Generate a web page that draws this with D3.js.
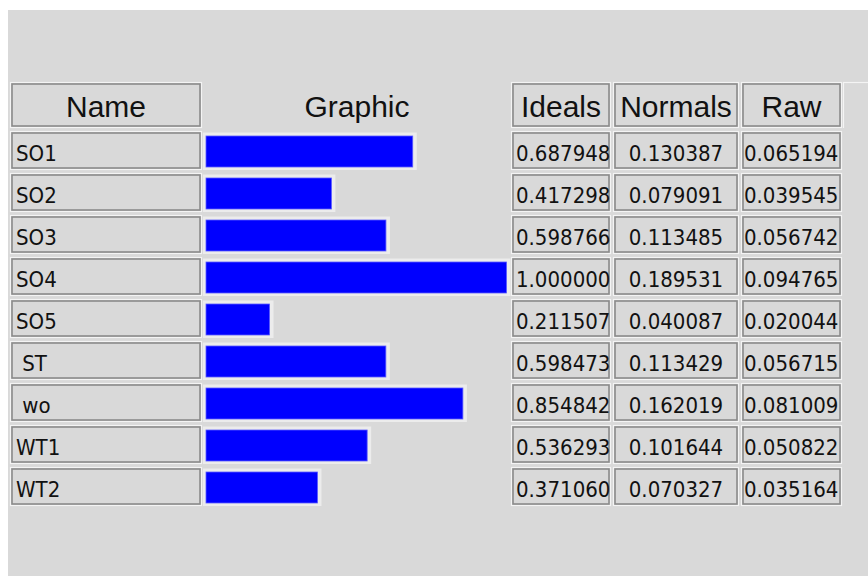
<!DOCTYPE html>
<html>
<head>
<meta charset="utf-8">
<script src="https://cdn.jsdelivr.net/npm/d3@7"></script>
<style>
  html, body { margin: 0; padding: 0; background: #ffffff; }
  svg { display: block; }
  text { white-space: pre; }
</style>
</head>
<body>
<svg id="chart" width="868" height="576"></svg>
<script>
// ---- data ----
const headers = ["Name", "Graphic", "Ideals", "Normals", "Raw"];
const names   = ["SO1", "SO2", "SO3", "SO4", "SO5", " ST", " wo", "WT1", "WT2"];
const ideals  = ["0.687948", "0.417298", "0.598766", "1.000000", "0.211507", "0.598473", "0.854842", "0.536293", "0.371060"];
const normals = ["0.130387", "0.079091", "0.113485", "0.189531", "0.040087", "0.113429", "0.162019", "0.101644", "0.070327"];
const raws    = ["0.065194", "0.039545", "0.056742", "0.094765", "0.020044", "0.056715", "0.081009", "0.050822", "0.035164"];

// ---- layout ----
const W = 868, H = 576;
const svg = d3.select("#chart");
const BG = "#d9d9d9", LIGHT = "#f4f4f4", DARK = "#8a8a8a";
const bodyFont = "'DejaVu Sans Condensed', 'DejaVu Sans', sans-serif";
const headFont = "'Liberation Sans', Arial, sans-serif";

svg.append("rect").attr("x", 8).attr("y", 10).attr("width", W - 8).attr("height", H - 10).attr("fill", BG);

const cols = {
  Name:    [10, 202],
  Graphic: [203, 511],
  Ideals:  [511, 611],
  Normals: [613, 739],
  Raw:     [741, 842]
};
const headerTop = 82, headerBottom = 128;
const rowTop0 = 131, rowPitch = 42, rowH = 39;

const y = d3.scaleBand().domain(d3.range(names.length))
  .range([rowTop0, rowTop0 + rowPitch * names.length]).paddingInner(0).paddingOuter(0);
const barX0 = 206;
const xBar = d3.scaleLinear().domain([0, 1]).range([0, 300.5]);

function cell(g, x0, x1, y0, y1) {
  g.append("rect").attr("x", x0 + 0.5).attr("y", y0 + 0.5)
    .attr("width", x1 - x0 - 1).attr("height", y1 - y0 - 1)
    .attr("fill", BG).attr("stroke", LIGHT).attr("stroke-width", 1.2);
  g.append("rect").attr("x", x0 + 2).attr("y", y0 + 2)
    .attr("width", x1 - x0 - 4).attr("height", y1 - y0 - 4)
    .attr("fill", "none").attr("stroke", DARK).attr("stroke-width", 1.6);
}

const g = svg.append("g");

// header cells
["Name", "Ideals", "Normals", "Raw"].forEach(k => cell(g, cols[k][0], cols[k][1], headerTop, headerBottom));
// partial extra cell at the right
g.append("line").attr("x1", 843).attr("x2", W).attr("y1", headerTop + 0.5).attr("y2", headerTop + 0.5)
  .attr("stroke", LIGHT).attr("stroke-width", 1.2);
g.append("line").attr("x1", 843.5).attr("x2", 843.5).attr("y1", headerTop).attr("y2", headerBottom)
  .attr("stroke", LIGHT).attr("stroke-width", 1.2);

g.selectAll("text.head").data(headers).enter().append("text")
  .attr("class", "head")
  .attr("x", d => (cols[d][0] + cols[d][1]) / 2)
  .attr("y", headerTop + 35)
  .attr("text-anchor", "middle")
  .attr("font-family", headFont).attr("font-size", 30)
  .attr("fill", "#111")
  .text(d => d);

// body rows
const rows = g.selectAll("g.row").data(names.map((n, i) => i)).enter().append("g").attr("class", "row");

rows.each(function(i) {
  const r = d3.select(this);
  const t = y(i), b = t + rowH;
  cell(r, cols.Name[0], cols.Name[1], t, b);
  cell(r, cols.Ideals[0], cols.Ideals[1], t, b);
  cell(r, cols.Normals[0], cols.Normals[1], t, b);
  cell(r, cols.Raw[0], cols.Raw[1], t, b);

  const v = +ideals[i];
  // light halo box
  r.append("rect").attr("x", barX0 - 3).attr("y", t + 1.5)
    .attr("width", xBar(v) + 7).attr("height", rowH - 1.5)
    .attr("fill", "#ececec");
  r.append("rect").attr("x", barX0).attr("y", t + 5)
    .attr("width", xBar(v)).attr("height", rowH - 8)
    .attr("fill", "#0000ff").attr("stroke", "#5a5aff").attr("stroke-width", 0.8);

  const base = t + 30;
  const txt = (x, s, anchor) => r.append("text").attr("x", x).attr("y", base)
    .attr("text-anchor", anchor).attr("font-family", bodyFont).attr("font-size", 22)
    .attr("fill", "#111").text(s);
  txt(cols.Name[0] + 6, names[i], "start");
  txt(cols.Ideals[0] + 5, ideals[i], "start");
  txt((cols.Normals[0] + cols.Normals[1]) / 2, normals[i], "middle");
  txt(cols.Raw[0] + 3, raws[i], "start");
});
</script>
</body>
</html>
